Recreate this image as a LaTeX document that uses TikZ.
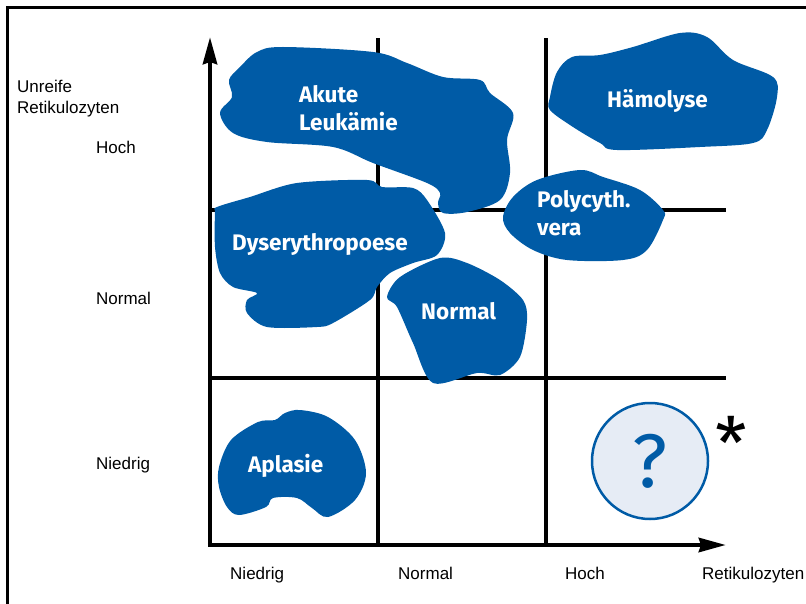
\documentclass[tikz,border=0pt]{standalone}
\usepackage{fontspec}
\setmainfont{Liberation Sans}
\newfontfamily\blobfont{Fira Sans}
\usetikzlibrary{arrows.meta}
\definecolor{blobblue}{HTML}{005BA6}
\definecolor{qfill}{HTML}{E6ECF5}
\begin{document}
\begin{tikzpicture}[x=1pt,y=-1pt,
  blob/.style={fill=blobblue},
  blobtext/.style={text=white, font=\blobfont\bfseries\fontsize{22.5}{28}\selectfont, anchor=base west, inner sep=0pt, align=left},
  axlabel/.style={font=\fontsize{17}{21}\selectfont, anchor=base west, inner sep=0pt},
  axisline/.style={line width=4.5pt, -{Stealth[length=27pt,width=14pt,inset=2pt]}},
  gridline/.style={line width=4.5pt},
  frameline/.style={line width=3pt},
  ]
\useasboundingbox (0,0) rectangle (806,604);
% frame
\coordinate (f1) at (7,620);
\coordinate (f2) at (7,8);
\coordinate (f3) at (830,8);
\draw[frameline] (f1) -- (f2) -- (f3);
% grid
\coordinate (o) at (210,545);
\coordinate (ytop) at (210,37);
\coordinate (xend) at (726,545);
\coordinate (v1b) at (378,545); \coordinate (v1t) at (378,38);
\coordinate (v2b) at (546,545); \coordinate (v2t) at (546,38);
\coordinate (h1l) at (210,210); \coordinate (h1r) at (726,210);
\coordinate (h2l) at (210,378); \coordinate (h2r) at (726,378);
\draw[gridline] (v1b) -- (v1t);
\draw[gridline] (v2b) -- (v2t);
\draw[gridline] (h1l) -- (h1r);
\draw[gridline] (h2l) -- (h2r);
\draw[axisline] (o) -- (ytop);
\draw[axisline] ([xshift=-2.25pt]o) -- (xend);
% axis labels
\node[axlabel, align=left] (ylab) at (17,114) {Unreife\\Retikulozyten};
\node[axlabel] (yhoch) at (96,154) {Hoch};
\node[axlabel] (ynormal) at (96,304) {Normal};
\node[axlabel] (yniedrig) at (96,469) {Niedrig};
\node[axlabel] (xniedrig) at (230,579) {Niedrig};
\node[axlabel] (xnormal) at (398,579) {Normal};
\node[axlabel] (xhoch) at (565,579) {Hoch};
\node[axlabel] (xlab) at (702,579) {Retikulozyten};
% blobs
\fill[blob] plot[smooth cycle, tension=0.55] coordinates {
 (240,67) (257,52) (283,47) (373,52) (407,63) (443,77) (480,80) (490,93)
 (513,113) (507,140) (510,173) (500,200) (467,212) (443,213) (438,203)
 (440,193) (427,183) (373,163) (333,147) (267,142) (233,133) (220,113)
 (232,97) (229,80)};
\fill[blob] plot[smooth cycle, tension=0.55] coordinates {
 (550,97) (557,72) (572,57) (600,55) (633,47) (680,33) (707,37) (733,60)
 (773,77) (777,97) (767,130) (753,143) (700,147) (617,150) (600,143)
 (573,127) (550,110)};
\fill[blob] plot[smooth cycle, tension=0.55] coordinates {
 (503,217) (513,197) (537,180) (580,170) (603,177) (640,190) (663,210)
 (663,220) (647,250) (623,260) (567,260) (533,250) (510,233)};
\fill[blob] plot[smooth cycle, tension=0.5] coordinates {
 (217,207) (250,197) (297,183) (367,180) (382,187) (413,188) (427,200)
 (445,233) (437,255) (413,263) (390,273) (377,287) (370,300) (333,323)
 (317,327) (267,327) (247,313) (247,300) (257,293) (233,287) (220,273)
 (215,247) (215,213)};
\fill[blob] plot[smooth cycle, tension=0.5] coordinates {
 (387,297) (400,277) (440,258) (467,263) (500,280) (523,300) (527,320)
 (520,357) (500,375) (477,373) (433,383) (413,343) (397,307)};
\fill[blob] plot[smooth cycle, tension=0.55] coordinates {
 (219,467) (231,440) (258,422) (275,420) (285,413) (300,410) (328,417)
 (355,440) (366,473) (355,500) (328,517) (312,508) (297,498) (273,498)
 (266,507) (239,515) (227,507) (219,487)};
% blob texts
\node[blobtext] (akute) at (299,131) {Akute\\Leukämie};
\node[blobtext] (haemo) at (607,108) {Hämolyse};
\node[blobtext] (poly) at (537,236) {Polycyth.\\vera};
\node[blobtext] (dys) at (232,251) {Dyserythropoese};
\node[blobtext] (norm) at (421,319) {Normal};
\node[blobtext] (apl) at (248,472) {Aplasie};
% question circle
\node[circle, minimum size=116pt, draw=blobblue, fill=qfill, line width=2.5pt,
      text=blobblue, inner sep=0pt, font=\blobfont\fontsize{76}{76}\selectfont] (q) at (650,461) {?};
\node[font=\blobfont\fontsize{72}{72}\selectfont, inner sep=0pt] (star) at (731,443) {*};
\end{tikzpicture}
\end{document}
